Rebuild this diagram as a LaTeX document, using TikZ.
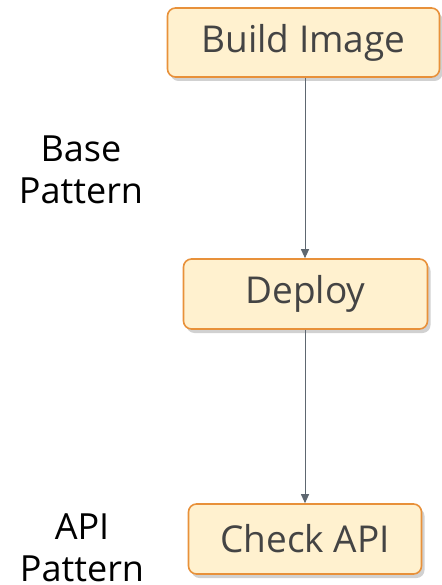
\documentclass[tikz,border=0pt]{standalone}
\usepackage{fontspec}
\setmainfont{Open Sans}
\usetikzlibrary{shadows,arrows.meta}
\definecolor{boxfill}{HTML}{FFF1CF}
\definecolor{boxedge}{HTML}{E8913A}
\definecolor{boxtext}{HTML}{444444}
\definecolor{flowline}{HTML}{5E6770}
\begin{document}
\begin{tikzpicture}[x=1pt,y=-1pt,
  stepbox/.style={draw=boxedge, line width=1.6pt, fill=boxfill, rounded corners=8pt,
    text=boxtext, font=\fontsize{37}{42}\selectfont, inner sep=0pt,
    drop shadow={shadow xshift=3pt, shadow yshift=-4pt, opacity=0.3, fill=black!60}},
  sidelabel/.style={align=center, font=\fontsize{36}{42}\selectfont, text=black},
  flow/.style={draw=flowline, line width=1pt, -{Triangle[length=9pt,width=8pt]}}]
\useasboundingbox (0,0) rectangle (441,585);
\node[stepbox, minimum width=272pt, minimum height=69pt] (build) at (303.5,42.5) {Build Image};
\node[stepbox, minimum width=244pt, minimum height=70pt] (deploy) at (305.5,294) {Deploy};
\node[stepbox, minimum width=233pt, minimum height=70pt] (check) at (305,539) {Check API};
\node[sidelabel] (base) at (81,170) {Base\\Pattern};
\node[sidelabel] (api) at (82,548) {API\\Pattern};
\draw[flow] (build.south -| 305,0) -- (deploy.north -| 305,0);
\draw[flow] (deploy.south -| 305,0) -- (check.north -| 305,0);
\end{tikzpicture}
\end{document}
